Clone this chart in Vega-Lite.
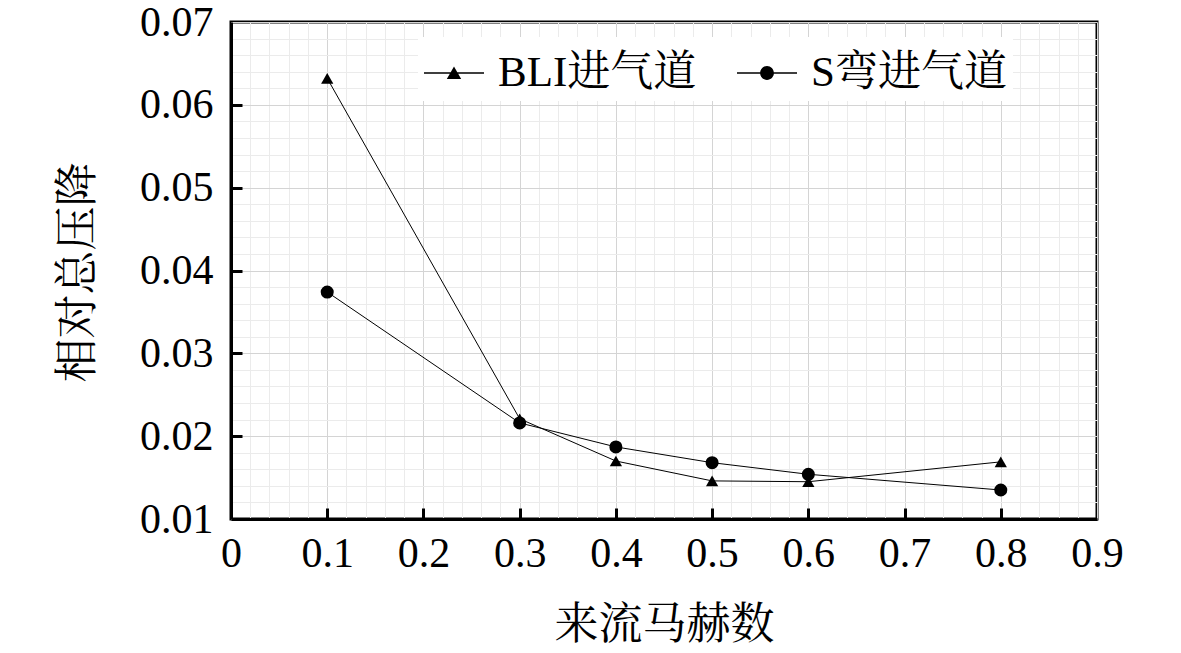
{
  "$schema": "https://vega.github.io/schema/vega-lite/v6.json",
  "width": 866,
  "height": 497,
  "autosize": "none",
  "padding": {"left": 231, "top": 22, "right": 84, "bottom": 134},
  "background": "white",
  "config": {
    "view": {"stroke": "black", "strokeWidth": 3},
    "font": "Liberation Serif, Noto Serif CJK SC, Noto Sans CJK SC"
  },
  "data": {
    "values": [
      {"Ma": 0.1, "dp": 0.0632, "series": "BLI进气道"},
      {"Ma": 0.3, "dp": 0.0221, "series": "BLI进气道"},
      {"Ma": 0.4, "dp": 0.0170, "series": "BLI进气道"},
      {"Ma": 0.5, "dp": 0.0146, "series": "BLI进气道"},
      {"Ma": 0.6, "dp": 0.0145, "series": "BLI进气道"},
      {"Ma": 0.8, "dp": 0.0169, "series": "BLI进气道"},
      {"Ma": 0.1, "dp": 0.0374, "series": "S弯进气道"},
      {"Ma": 0.3, "dp": 0.0216, "series": "S弯进气道"},
      {"Ma": 0.4, "dp": 0.0187, "series": "S弯进气道"},
      {"Ma": 0.5, "dp": 0.0168, "series": "S弯进气道"},
      {"Ma": 0.6, "dp": 0.0154, "series": "S弯进气道"},
      {"Ma": 0.8, "dp": 0.0135, "series": "S弯进气道"}
    ]
  },
  "resolve": {"axis": {"x": "independent", "y": "independent"}},
  "layer": [
    {
      "mark": {"type": "point", "opacity": 0},
      "encoding": {
        "x": {
          "field": "Ma", "type": "quantitative",
          "scale": {"domain": [0, 0.9], "nice": false, "zero": false},
          "axis": {
            "orient": "top", "title": null, "labels": false, "ticks": false, "domain": false,
            "grid": true, "gridColor": "#ebebeb", "gridWidth": 1,
            "values": [0.02, 0.04, 0.06, 0.08, 0.12, 0.14, 0.16, 0.18, 0.22, 0.24, 0.26, 0.28, 0.32, 0.34, 0.36, 0.38, 0.42, 0.44, 0.46, 0.48, 0.52, 0.54, 0.56, 0.58, 0.62, 0.64, 0.66, 0.68, 0.72, 0.74, 0.76, 0.78, 0.82, 0.84, 0.86, 0.88]
          }
        },
        "y": {
          "field": "dp", "type": "quantitative",
          "scale": {"domain": [0.01, 0.07], "nice": false, "zero": false},
          "axis": {
            "orient": "right", "title": null, "labels": false, "ticks": false, "domain": false,
            "grid": true, "gridColor": "#ebebeb", "gridWidth": 1,
            "values": [0.012, 0.014, 0.016, 0.018, 0.022, 0.024, 0.026, 0.028, 0.032, 0.034, 0.036, 0.038, 0.042, 0.044, 0.046, 0.048, 0.052, 0.054, 0.056, 0.058, 0.062, 0.064, 0.066, 0.068]
          }
        }
      }
    },
    {
      "mark": {"type": "point", "opacity": 0},
      "encoding": {
        "x": {
          "field": "Ma", "type": "quantitative",
          "axis": {
            "orient": "bottom", "offset": -11, "title": null, "labels": false, "domain": false, "grid": false,
            "values": [0.1, 0.2, 0.3, 0.4, 0.5, 0.6, 0.7, 0.8],
            "ticks": true, "tickSize": 11, "tickColor": "black", "tickWidth": 3, "tickOpacity": 1
          }
        },
        "y": {
          "field": "dp", "type": "quantitative",
          "axis": {
            "orient": "left", "offset": -11, "title": null, "labels": false, "domain": false, "grid": false,
            "values": [0.02, 0.03, 0.04, 0.05, 0.06],
            "ticks": true, "tickSize": 11, "tickColor": "black", "tickWidth": 3, "tickOpacity": 1
          }
        }
      }
    },
    {
      "mark": {"type": "line", "color": "black", "strokeWidth": 1},
      "encoding": {
        "x": {
          "field": "Ma", "type": "quantitative",
          "axis": {
            "orient": "bottom",
            "values": [0, 0.1, 0.2, 0.3, 0.4, 0.5, 0.6, 0.7, 0.8, 0.9],
            "format": ".1~f",
            "title": "来流马赫数",
            "titleFont": "Liberation Serif, Noto Serif CJK SC, Noto Sans CJK SC",
            "titleFontSize": 44, "titleFontWeight": "normal", "titleColor": "black",
            "titleX": 433, "titleY": 106, "titleBaseline": "middle", "titleAlign": "center",
            "labelFontSize": 42, "labelColor": "black", "labelBaseline": "middle",
            "labelPadding": 34, "labelFlush": false,
            "grid": true, "gridColor": "#d4d4d4", "gridWidth": 1,
            "domainColor": "black", "domainWidth": 3,
            "ticks": false
          }
        },
        "y": {
          "field": "dp", "type": "quantitative",
          "axis": {
            "orient": "left",
            "values": [0.01, 0.02, 0.03, 0.04, 0.05, 0.06, 0.07],
            "format": ".2f",
            "title": "相对总压降",
            "titleFont": "Liberation Serif, Noto Serif CJK SC, Noto Sans CJK SC",
            "titleFontSize": 44, "titleFontWeight": "normal", "titleColor": "black",
            "titleX": -153, "titleY": 250, "titleBaseline": "middle", "titleAlign": "center", "titleAngle": -90,
            "labelFontSize": 42, "labelColor": "black", "labelBaseline": "middle",
            "labelPadding": 18, "labelFlush": false,
            "grid": true, "gridColor": "#d4d4d4", "gridWidth": 1,
            "domainColor": "black", "domainWidth": 3,
            "ticks": false
          }
        },
        "detail": {"field": "series"}
      }
    },
    {
      "transform": [{"filter": "datum.series === 'BLI进气道'"}],
      "mark": {"type": "point", "shape": "triangle-up", "filled": true, "color": "black", "opacity": 1, "size": 150},
      "encoding": {
        "x": {"field": "Ma", "type": "quantitative", "axis": null},
        "y": {"field": "dp", "type": "quantitative", "axis": null}
      }
    },
    {
      "transform": [{"filter": "datum.series === 'S弯进气道'"}],
      "mark": {"type": "point", "shape": "circle", "filled": true, "color": "black", "opacity": 1, "size": 170},
      "encoding": {
        "x": {"field": "Ma", "type": "quantitative", "axis": null},
        "y": {"field": "dp", "type": "quantitative", "axis": null}
      }
    },
    {
      "mark": {"type": "point", "filled": true, "color": "black", "size": 0},
      "encoding": {
        "x": {"field": "Ma", "type": "quantitative", "axis": null},
        "y": {"field": "dp", "type": "quantitative", "axis": null},
        "shape": {
          "field": "series", "type": "nominal",
          "scale": {
            "domain": ["BLI进气道", "S弯进气道"],
            "range": [
              "M-1,-0.025L1,-0.025L1,0.025L-1,0.025ZM-0.24,0.2L0,-0.22L0.24,0.2Z",
              "M-1,-0.025L1,-0.025L1,0.025L-1,0.025ZM-0.23,0A0.23,0.23,0,1,1,0.23,0A0.23,0.23,0,1,1,-0.23,0Z"
            ]
          },
          "legend": {
            "title": null,
            "orient": "none",
            "legendX": 187,
            "legendY": 15,
            "direction": "horizontal",
            "fillColor": "white",
            "padding": 6,
            "symbolSize": 3600,
            "symbolFillColor": "black",
            "symbolStrokeColor": "black",
            "symbolStrokeWidth": 0,
            "symbolOpacity": 1,
            "labelFont": "Liberation Serif, Noto Serif CJK SC, Noto Sans CJK SC",
            "labelFontSize": 43,
            "labelColor": "black",
            "labelLimit": 400,
            "labelOffset": 14,
            "columnPadding": 40
          }
        }
      }
    }
  ]
}
